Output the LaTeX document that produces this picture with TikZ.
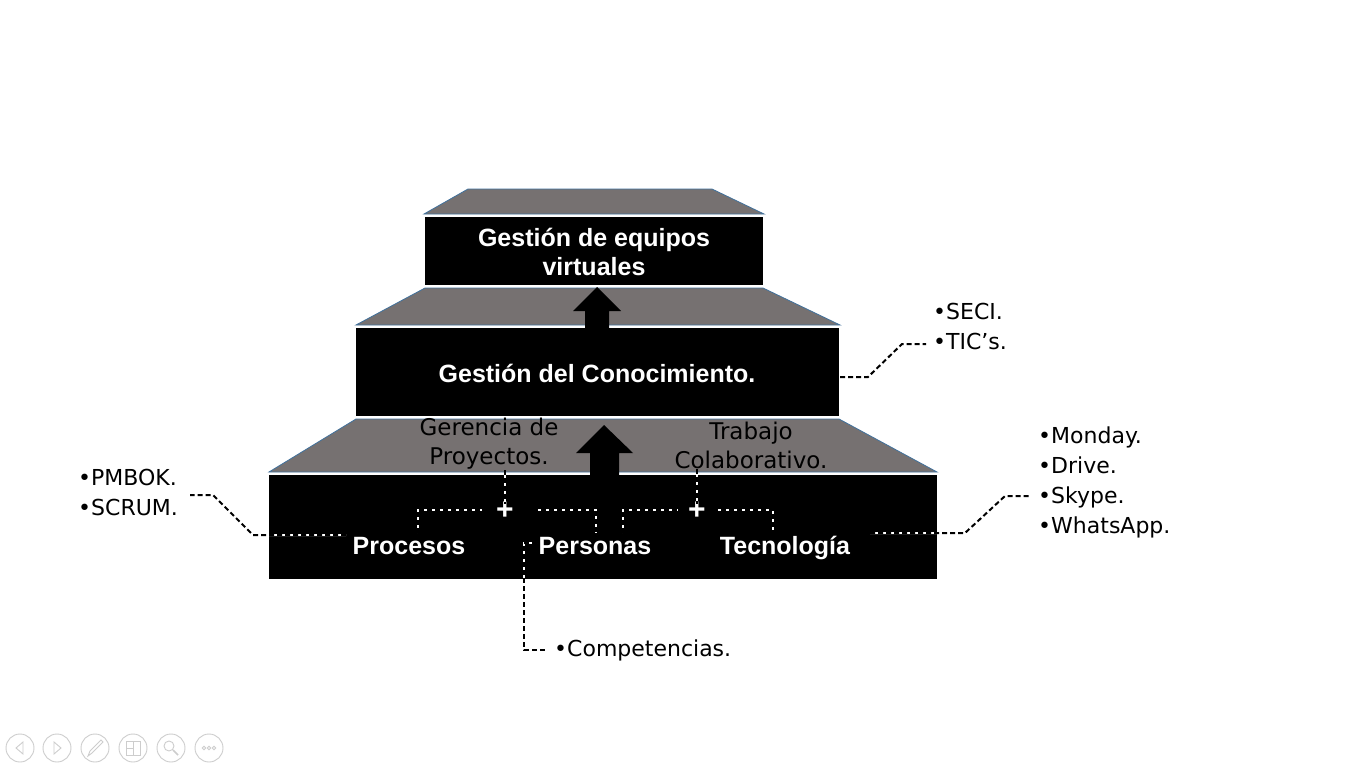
\documentclass[tikz,border=0pt]{standalone}
\usepackage{fontspec}
\setmainfont{Liberation Sans}
\newfontfamily\handfont{DejaVu Sans}
\definecolor{trapgray}{RGB}{118,113,113}
\definecolor{trapedge}{RGB}{65,113,156}
\definecolor{toolgray}{RGB}{205,205,205}
\begin{document}
\begin{tikzpicture}[x=1pt,y=-1pt,
 box/.style={fill=black, draw=none, inner sep=0pt},
 lbl/.style={text=white, font=\fontsize{25}{29}\selectfont\bfseries, align=center, inner sep=0pt},
 trap/.style={fill=trapgray, draw=trapedge, line width=0.8pt, line join=miter},
 hand/.style={font=\handfont\fontsize{22}{30}\selectfont, align=left, inner sep=0pt, text=black},
 handc/.style={font=\handfont\fontsize{23}{29}\selectfont, align=center, inner sep=0pt, text=black},
 dl/.style={line width=2pt, black, dash pattern=on 5pt off 3pt, preaction={draw=white, solid, line width=2pt}},
 plussign/.style={text=white, font=\fontsize{30}{30}\selectfont\bfseries, inner sep=0pt},
 blockarrow/.style={fill=black, draw=none},
 tool/.style={draw=toolgray, line width=0.9pt}
]
\useasboundingbox (0,0) rectangle (1366,768);
\fill[white] (0,0) rectangle (1366,768);

% trapezoid caps
\draw[trap] (468,189) -- (712,189) -- (764,214) -- (424,214) -- cycle;
\draw[trap] (425,288) -- (763,288) -- (840,325) -- (356,325) -- cycle;
\draw[trap] (356,419) -- (839,419) -- (937,472) -- (269,472) -- cycle;

% boxes
\node[box, minimum width=338pt, minimum height=68pt] (top) at (594,251) {};
\node[box, minimum width=483pt, minimum height=88pt] (mid) at (597.5,372) {};
\node[box, minimum width=668pt, minimum height=104pt] (low) at (603,527) {};

% box labels
\node[lbl] (topt) at (594,251.5) {Gestión de equipos\\virtuales};
\node[lbl] (midt) at (597,373) {Gestión del Conocimiento.};
\node[lbl, anchor=base] (proc) at (409,554) {Procesos};
\node[lbl, anchor=base] (pers) at (595,554) {Personas};
\node[lbl, anchor=base] (tecn) at (785,554) {Tecnología};

% block arrows
\fill[blockarrow] (597,287) -- (621,311) -- (609,311) -- (609,328) -- (585,328) -- (585,311) -- (573,311) -- cycle;
\fill[blockarrow] (604,425) -- (633,453) -- (619,453) -- (619,475) -- (590,475) -- (590,453) -- (576,453) -- cycle;

% handwritten labels on lower cap
\node[handc] (ger) at (489,444) {Gerencia de\\Proyectos.};
\node[handc] (trab) at (751,445) {Trabajo\\Colaborativo.};

% plus signs
\node[plussign] (plusA) at (505,511) {+};
\node[plussign] (plusB) at (697,511) {+};

% side lists
\node[hand, anchor=west] (seci) at (933,326) {•SECI.\\•TIC’s.};
\node[hand, anchor=west] (pmbok) at (78,492) {•PMBOK.\\•SCRUM.};
\node[hand, anchor=west] (tools) at (1038,482) {•Monday.\\•Drive.\\•Skype.\\•WhatsApp.};
\node[hand, anchor=west] (comp) at (554,650) {•Competencias.};

% coordinates for connectors
\coordinate (a1) at (418,533);
\coordinate (a2) at (482,510);
\coordinate (a3) at (533,510);
\coordinate (a4) at (596,533);
\coordinate (b1) at (623,533);
\coordinate (b2) at (678,510);
\coordinate (b3) at (713,510);
\coordinate (b4) at (773,533);
\coordinate (pA) at (346,535);
\coordinate (pB) at (253,535);
\coordinate (pC) at (213,495);
\coordinate (pD) at (190,495);
\coordinate (tA) at (870,533);
\coordinate (tB) at (965,533);
\coordinate (tC) at (1005,496);
\coordinate (tD) at (1029,496);
\coordinate (mA) at (840,377);
\coordinate (mB) at (868,377);
\coordinate (mC) at (902,344);
\coordinate (mD) at (926,344);
\coordinate (cA) at (537,543);
\coordinate (cB) at (524,543);
\coordinate (cC) at (524,650);
\coordinate (cD) at (545,650);

% connectors
\draw[dl] (ger.south -| plusA) -- ([yshift=-2pt]plusA.north);
\draw[dl] (trab.south -| plusB) -- ([yshift=-2pt]plusB.north);
\draw[dl] (a1) |- (a2);
\draw[dl] (a3) -| (a4);
\draw[dl] (b1) |- (b2);
\draw[dl] (b3) -| (b4);
\draw[dl] (pA) -- (pB) -- (pC) -- (pD);
\draw[dl] (tA) -- (tB) -- (tC) -- (tD);
\draw[dl] (mA) -- (mB) -- (mC) -- (mD);
\draw[dl] (cA) -- (cB) -- (cC) -- (cD);

% presentation toolbar
\foreach \cx [count=\i] in {20,57,95,133,171,209} {\draw[tool] (\cx,748) circle (14);}
\draw[tool] (23,742) -- (16,748) -- (23,754) -- cycle;
\draw[tool] (54,742) -- (61,748) -- (54,754) -- cycle;
\draw[tool] (88,756) -- (90,751) -- (101,740) -- (103,742) -- (92,753) -- cycle;
\draw[tool] (126,741) rectangle (133,748);
\draw[tool] (133,741) rectangle (140,755);
\draw[tool] (126,748) rectangle (133,755);
\draw[tool] (169,746) circle (5);
\draw[tool, line width=1.5pt] (173,750) -- (178,755);
\draw[tool] (204,748) circle (1.8);
\draw[tool] (209,748) circle (1.8);
\draw[tool] (214,748) circle (1.8);
\end{tikzpicture}
\end{document}
